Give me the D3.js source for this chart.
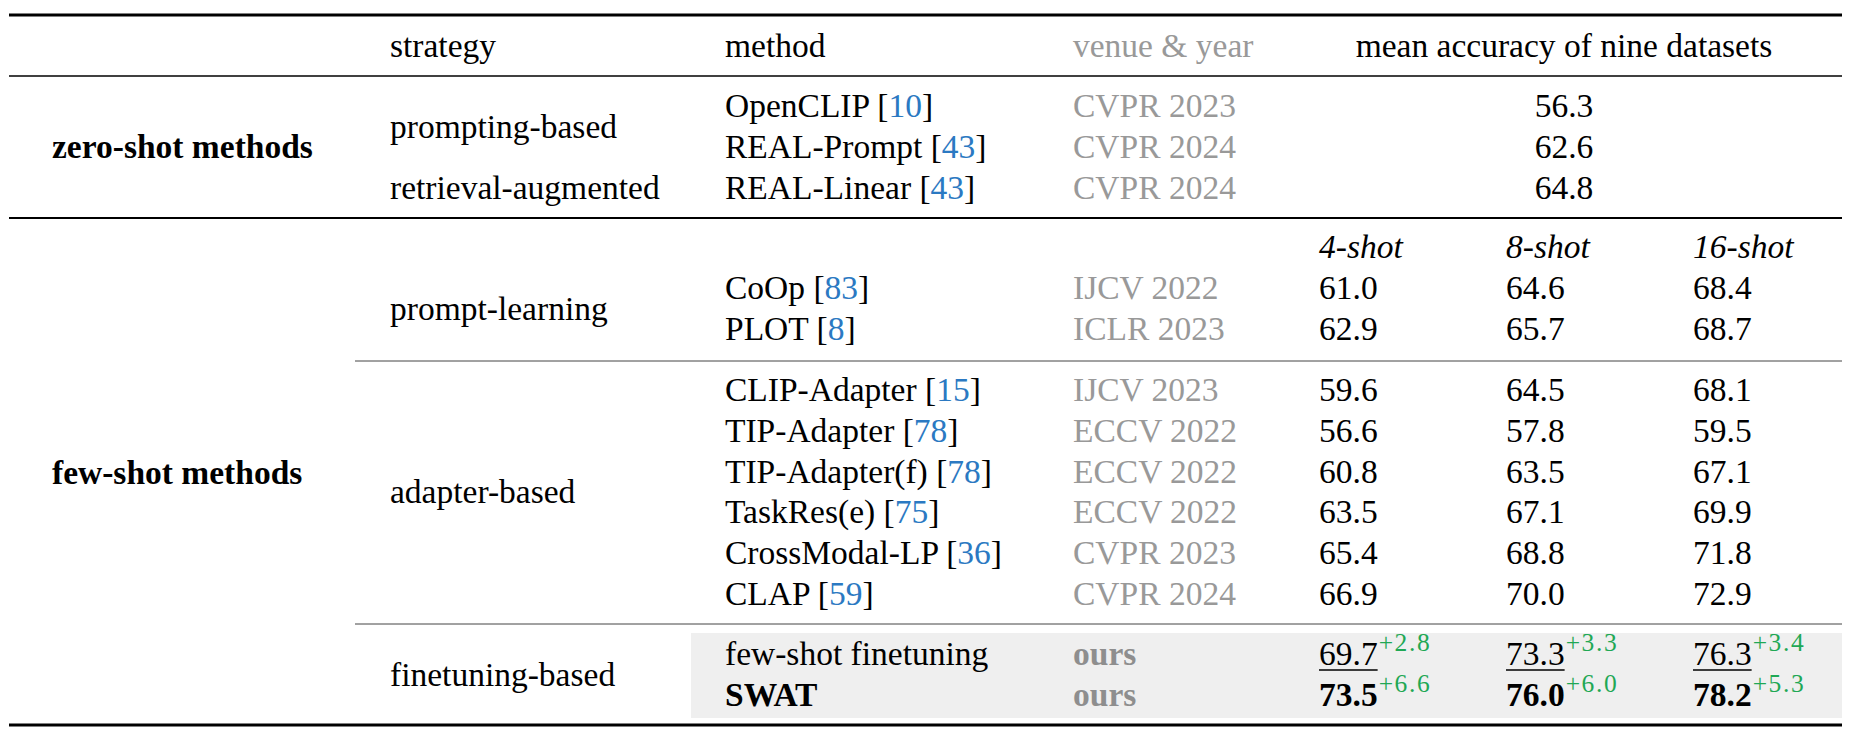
<!DOCTYPE html>
<html>
<head>
<meta charset="utf-8">
<script src="https://cdn.jsdelivr.net/npm/d3@7"></script>
<style>
  body { margin: 0; background: #fff; }
  text { font-family: "Liberation Serif", "Times New Roman", serif; }
</style>
</head>
<body>
<div class="viz"></div>
<script>
// table data
const headers = ["strategy", "method", "venue & year", "mean accuracy of nine datasets"]
const groups = ["zero-shot methods", "few-shot methods"]
const strategies = ["prompting-based", "retrieval-augmented", "prompt-learning", "adapter-based", "finetuning-based"]
const shots = ["4-shot", "8-shot", "16-shot"]

const zeroMethods = ["OpenCLIP", "REAL-Prompt", "REAL-Linear"]
const zeroRefs = ["10", "43", "43"]
const zeroVenues = ["CVPR 2023", "CVPR 2024", "CVPR 2024"]
const zeroAcc = [56.3, 62.6, 64.8]

const fewMethods = ["CoOp", "PLOT", "CLIP-Adapter", "TIP-Adapter", "TIP-Adapter(f)", "TaskRes(e)", "CrossModal-LP", "CLAP"]
const fewRefs = ["83", "8", "15", "78", "78", "75", "36", "59"]
const fewVenues = ["IJCV 2022", "ICLR 2023", "IJCV 2023", "ECCV 2022", "ECCV 2022", "ECCV 2022", "CVPR 2023", "CVPR 2024"]
const acc4 = [61.0, 62.9, 59.6, 56.6, 60.8, 63.5, 65.4, 66.9]
const acc8 = [64.6, 65.7, 64.5, 57.8, 63.5, 67.1, 68.8, 70.0]
const acc16 = [68.4, 68.7, 68.1, 59.5, 67.1, 69.9, 71.8, 72.9]

const oursMethods = ["few-shot finetuning", "SWAT"]
const oursVenue = "ours"
const ours4 = [69.7, 73.5]
const ours8 = [73.3, 76.0]
const ours16 = [76.3, 78.2]
const gain4 = [2.8, 6.6]
const gain8 = [3.3, 6.0]
const gain16 = [3.4, 5.3]

const width = 1856
const height = 737
const fs = 33.5
const grey = "#999999"
const blue = "#2b79c2"
const green = "#1fa855"

const svg = d3.select(".viz")
    .append("svg")
    .attr("width", width)
    .attr("height", height)

// column positions
const xCol = d3.scaleOrdinal()
    .domain(["group", "strategy", "method", "venue", "4-shot", "8-shot", "16-shot", "mean"])
    .range([52, 390, 725, 1073, 1319, 1506, 1693, 1564])

// row baselines, one scale per block
const yHead = 57
const yZero = d3.scaleLinear().domain([0, 1]).range([117, 158])
const yShot = 258
const yFew = d3.scaleLinear().domain([0, 1]).range([299, 340])
const yAdapt = d3.scaleLinear().domain([0, 1]).range([401, 441.8])
const yOurs = d3.scaleLinear().domain([0, 1]).range([665, 706])

const fmt = d3.format(".1f")

// grey highlight behind ours
svg.append("rect")
    .attr("x", 691).attr("y", 633)
    .attr("width", 1842 - 691).attr("height", 85)
    .attr("fill", "#efefef")

// rules
const rules = [
    {y: 15, x1: 9, w: 3},
    {y: 76, x1: 9, w: 1.5},
    {y: 218, x1: 9, w: 2},
    {y: 361, x1: 355, w: 1},
    {y: 624, x1: 355, w: 1},
    {y: 725, x1: 9, w: 3}
]
svg.selectAll("line.rule")
    .data(rules)
    .join("line")
    .attr("class", "rule")
    .attr("x1", d => d.x1).attr("x2", 1842)
    .attr("y1", d => d.y).attr("y2", d => d.y)
    .attr("stroke", d => d.w < 1.2 ? "#444" : "#000")
    .attr("stroke-width", d => d.w)

const txt = (x, y, s, opts = {}) => svg.append("text")
    .attr("x", x).attr("y", y)
    .attr("font-size", opts.size || fs)
    .attr("font-weight", opts.bold ? "bold" : null)
    .attr("font-style", opts.italic ? "italic" : null)
    .attr("text-anchor", opts.anchor || "start")
    .attr("letter-spacing", opts.spacing || null)
    .attr("fill", opts.color || "#000")
    .text(s)

// header
txt(xCol("strategy"), yHead, headers[0])
txt(xCol("method"), yHead, headers[1])
txt(xCol("venue"), yHead, headers[2], {color: grey})
txt(xCol("mean"), yHead, headers[3], {anchor: "middle"})

// group labels
txt(xCol("group"), yZero(1), groups[0], {bold: true})
txt(xCol("group"), yAdapt(2) + 1, groups[1], {bold: true})

// strategy labels
txt(xCol("strategy"), yZero(0.5), strategies[0])
txt(xCol("strategy"), yZero(2), strategies[1])
txt(xCol("strategy"), yFew(0.5), strategies[2])
txt(xCol("strategy"), yAdapt(2.5), strategies[3])
txt(xCol("strategy"), yOurs(0.5), strategies[4])

const methodCell = (y, name, ref) => {
    const t = txt(xCol("method"), y, null)
    t.append("tspan").text(name + " [")
    t.append("tspan").attr("fill", blue).text(ref)
    t.append("tspan").text("]")
}

// zero-shot rows
zeroMethods.forEach((m, i) => {
    methodCell(yZero(i), m, zeroRefs[i])
    txt(xCol("venue"), yZero(i), zeroVenues[i], {color: grey})
    txt(xCol("mean"), yZero(i), fmt(zeroAcc[i]), {anchor: "middle"})
})

// shot headers
shots.forEach(s => txt(xCol(s), yShot, s, {italic: true}))

// few-shot rows
const yFewRow = i => i < 2 ? yFew(i) : yAdapt(i - 2)
fewMethods.forEach((m, i) => {
    const y = yFewRow(i)
    methodCell(y, m, fewRefs[i])
    txt(xCol("venue"), y, fewVenues[i], {color: grey})
    txt(xCol("4-shot"), y, fmt(acc4[i]))
    txt(xCol("8-shot"), y, fmt(acc8[i]))
    txt(xCol("16-shot"), y, fmt(acc16[i]))
})

// ours rows
const oursCols = [["4-shot", ours4, gain4], ["8-shot", ours8, gain8], ["16-shot", ours16, gain16]]
oursMethods.forEach((m, i) => {
    const y = yOurs(i)
    const bold = i === 1
    txt(xCol("method"), y, m, {bold})
    txt(xCol("venue"), y, oursVenue, {bold: true, color: "#8e8e8e"})
    oursCols.forEach(([col, vals, gains]) => {
        const x = xCol(col)
        const t = txt(x, y, fmt(vals[i]), {bold})
        const w = t.node().getComputedTextLength()
        if (i === 0) {
            svg.append("line")
                .attr("x1", x).attr("x2", x + w)
                .attr("y1", y + 5).attr("y2", y + 5)
                .attr("stroke", "#000").attr("stroke-width", 1.5)
        }
        txt(x + w + 1, y - 14, "+" + fmt(gains[i]), {size: 25.5, color: green, spacing: 1.6})
    })
})
</script>
</body>
</html>
